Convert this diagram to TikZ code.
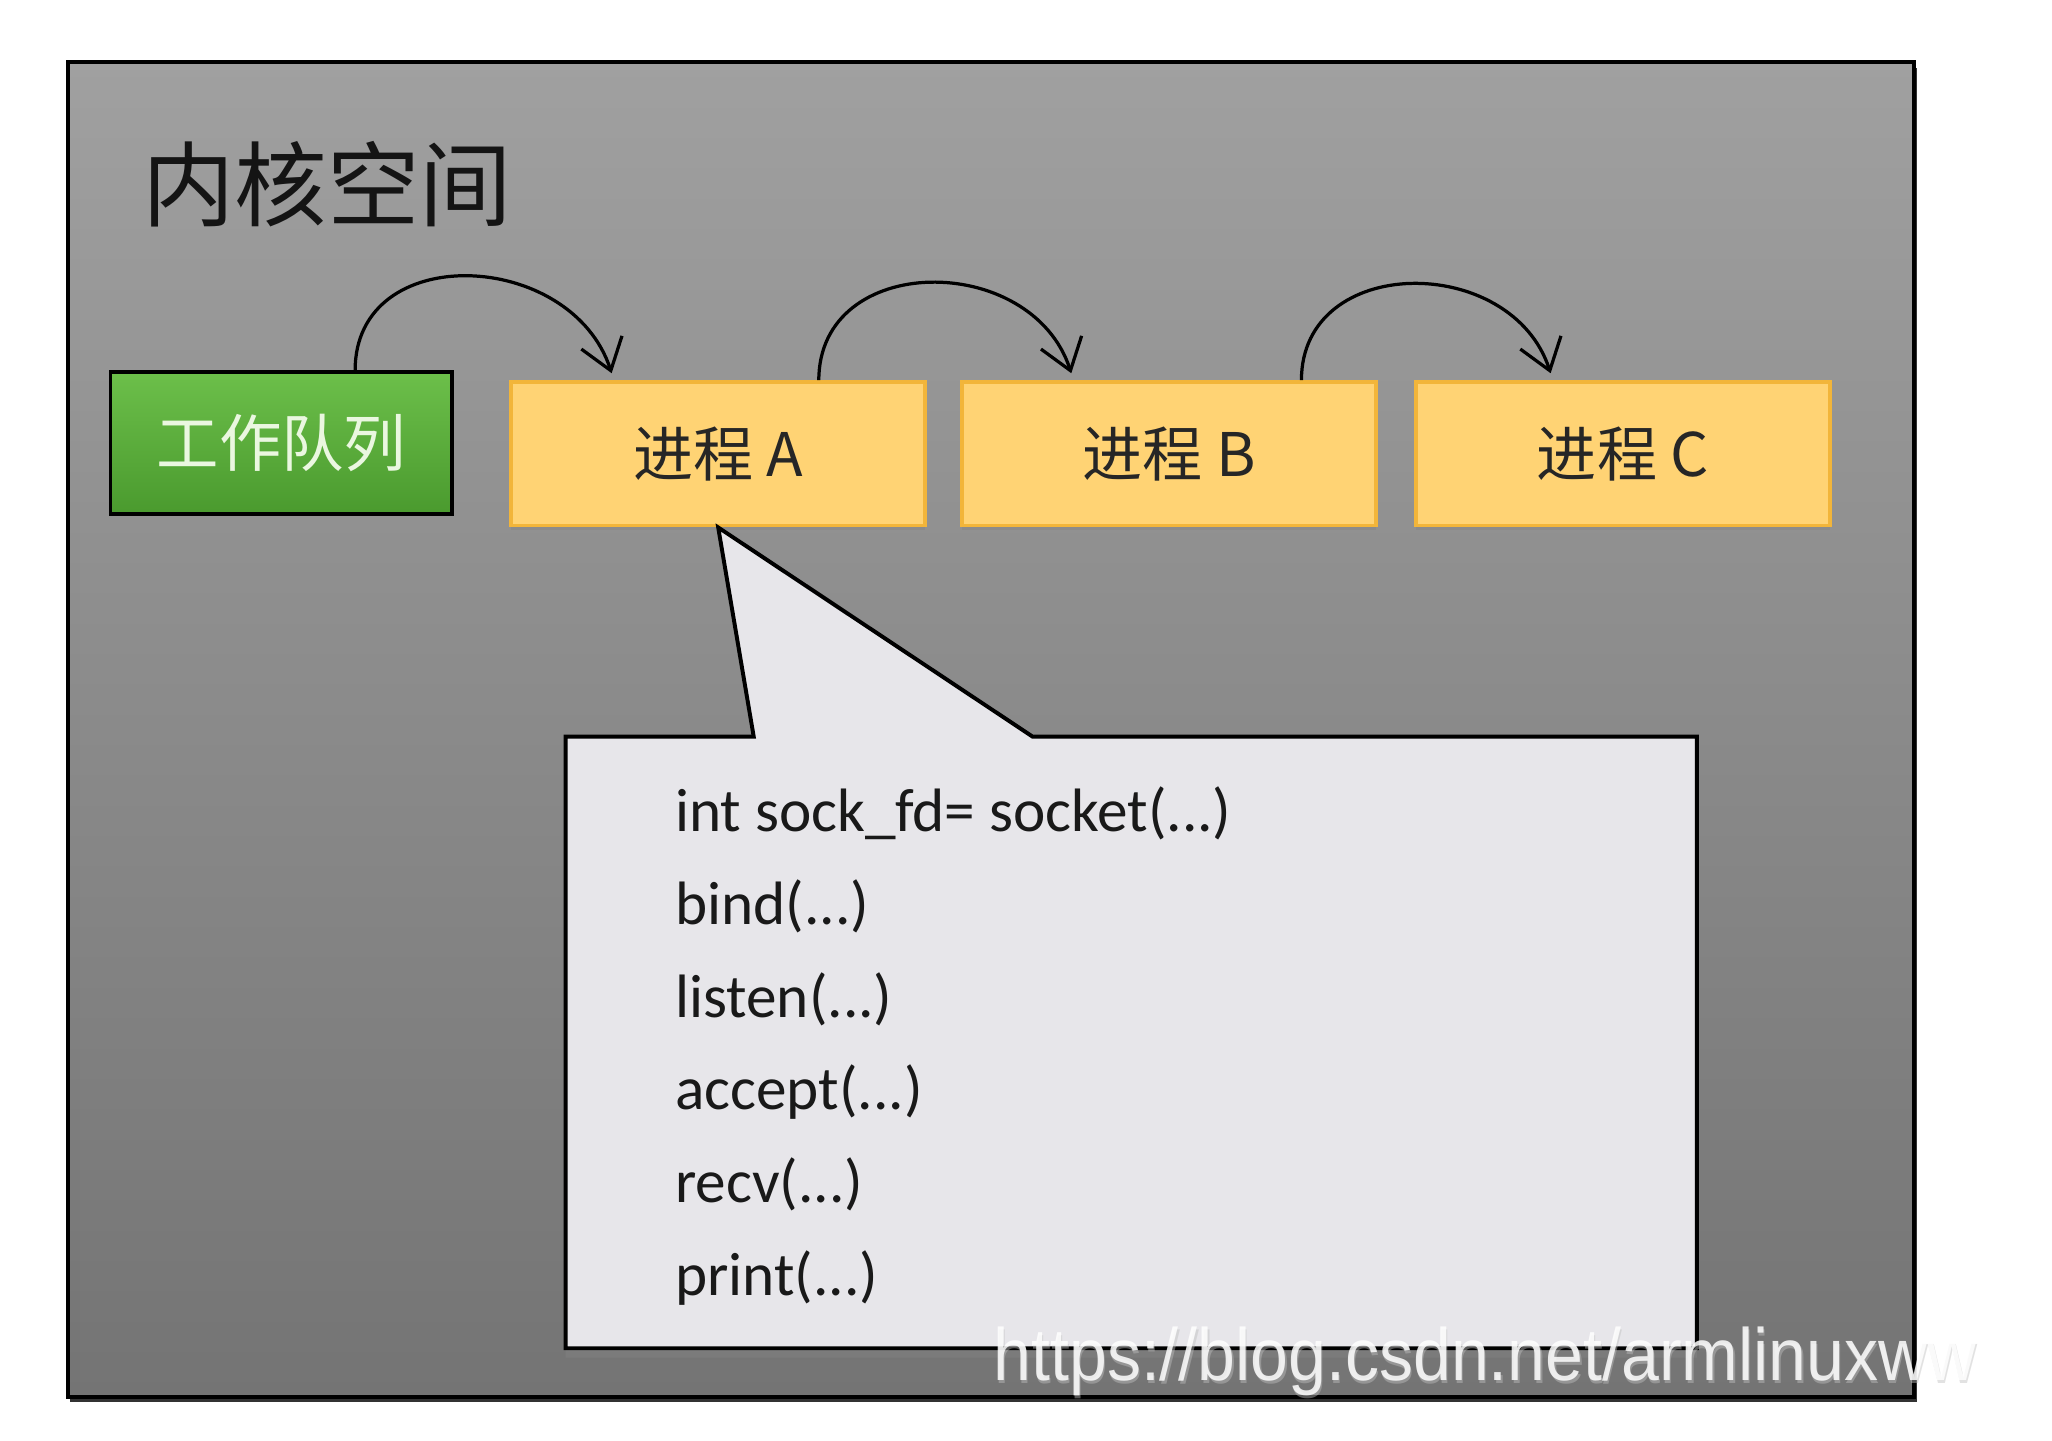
\documentclass[tikz,border=0pt]{standalone}
\usepackage{fontspec}
\setmainfont{Carlito}
\newfontfamily\cjk{Noto Sans CJK SC}
\newfontfamily\urlfont{Liberation Sans}
\usetikzlibrary{positioning,arrows.meta,shadows}

\definecolor{bgtop}{HTML}{A0A0A0}
\definecolor{bgbottom}{HTML}{747474}
\definecolor{qtop}{HTML}{6CBF4A}
\definecolor{qbottom}{HTML}{4A9A2E}
\definecolor{qtext}{HTML}{EAF7E0}
\definecolor{procfill}{HTML}{FFD374}
\definecolor{procedge}{HTML}{F2B53A}
\definecolor{notefill}{HTML}{E7E6EA}

\newcommand{\callargs}{(.{}.{}.)}

\tikzset{
  queuebox/.style={draw=black, line width=1.7pt, top color=qtop, bottom color=qbottom,
    minimum width=5.2cm, minimum height=2.16cm, inner sep=0pt,
    text=qtext, font=\cjk\fontsize{27}{30}\selectfont},
  procbox/.style={draw=procedge, line width=1.7pt, fill=procfill,
    minimum width=6.3cm, minimum height=2.18cm, inner sep=0pt,
    drop shadow={shadow xshift=0pt, shadow yshift=-2pt, opacity=.35},
    text=black!85, font=\cjk\fontsize{26}{30}\selectfont},
  flow/.style={line width=1.4pt, -{Straight Barb[length=0.45cm, width=0.65cm, line width=1.4pt]}},
  codeline/.style={anchor=base west, inner sep=0pt, text=black!90,
    font=\fontsize{26.5}{30}\selectfont},
  mark url/.style={anchor=west, inner sep=0pt, xscale=0.92,
    font=\urlfont\fontsize{32}{36}\selectfont}
}

\begin{document}
\begin{tikzpicture}[x=0.02cm, y=-0.02cm]
  \useasboundingbox (0,0) rectangle (1560,1095);

  % kernel space frame
  \fill[black!80] (53,52) rectangle (1457,1066);
  \draw[line width=1.7pt, top color=bgtop, bottom color=bgbottom] (52,47) rectangle (1455,1062);
  \node[anchor=west, inner sep=0pt, text=black!92, font=\cjk\fontsize{40}{44}\selectfont] (title) at (108,140) {内核空间};

  % queue and processes
  \node[queuebox] (wq) at (214,337) {工作队列};
  \node[procbox] (pa) at (546,345) {进程 A};
  \node[procbox, right=0.5cm of pa] (pb) {进程 B};
  \node[procbox, right=0.54cm of pb] (pc) {进程 C};

  \draw[flow] ([xshift=1.12cm]wq.north) to[out=90, in=108, looseness=1.3] ([xshift=-1.62cm, yshift=3pt]pa.north);
  \draw[flow] ([xshift=1.53cm]pa.north) to[out=90, in=108, looseness=1.3] ([xshift=-1.49cm, yshift=3pt]pb.north);
  \draw[flow] ([xshift=2.01cm]pb.north) to[out=90, in=108, looseness=1.3] ([xshift=-1.1cm, yshift=3pt]pc.north);

  % callout of process A
  \draw[line width=1.7pt, fill=notefill, drop shadow={shadow xshift=0pt, shadow yshift=-4pt, opacity=.6}]
    (430,560) -- (573,560) -- (pa.south) -- (785,560) -- (1290,560) -- (1290,1025) -- (430,1025) -- cycle;

  \foreach \txt [count=\i] in {{int sock\_fd= socket\callargs}, {bind\callargs}, {listen\callargs}, {accept\callargs}, {recv\callargs}, {print\callargs}}
    \node[codeline] (c\i) at (513, 632+70.6*\i-70.6) {\txt};

  \node[mark url, text=black!25, opacity=.45] (urlshade) at (756,1037) {https://blog.csdn.net/armlinuxww};
  \node[mark url, text=white, opacity=.85] (url) at (755,1035) {https://blog.csdn.net/armlinuxww};

\end{tikzpicture}
\end{document}
